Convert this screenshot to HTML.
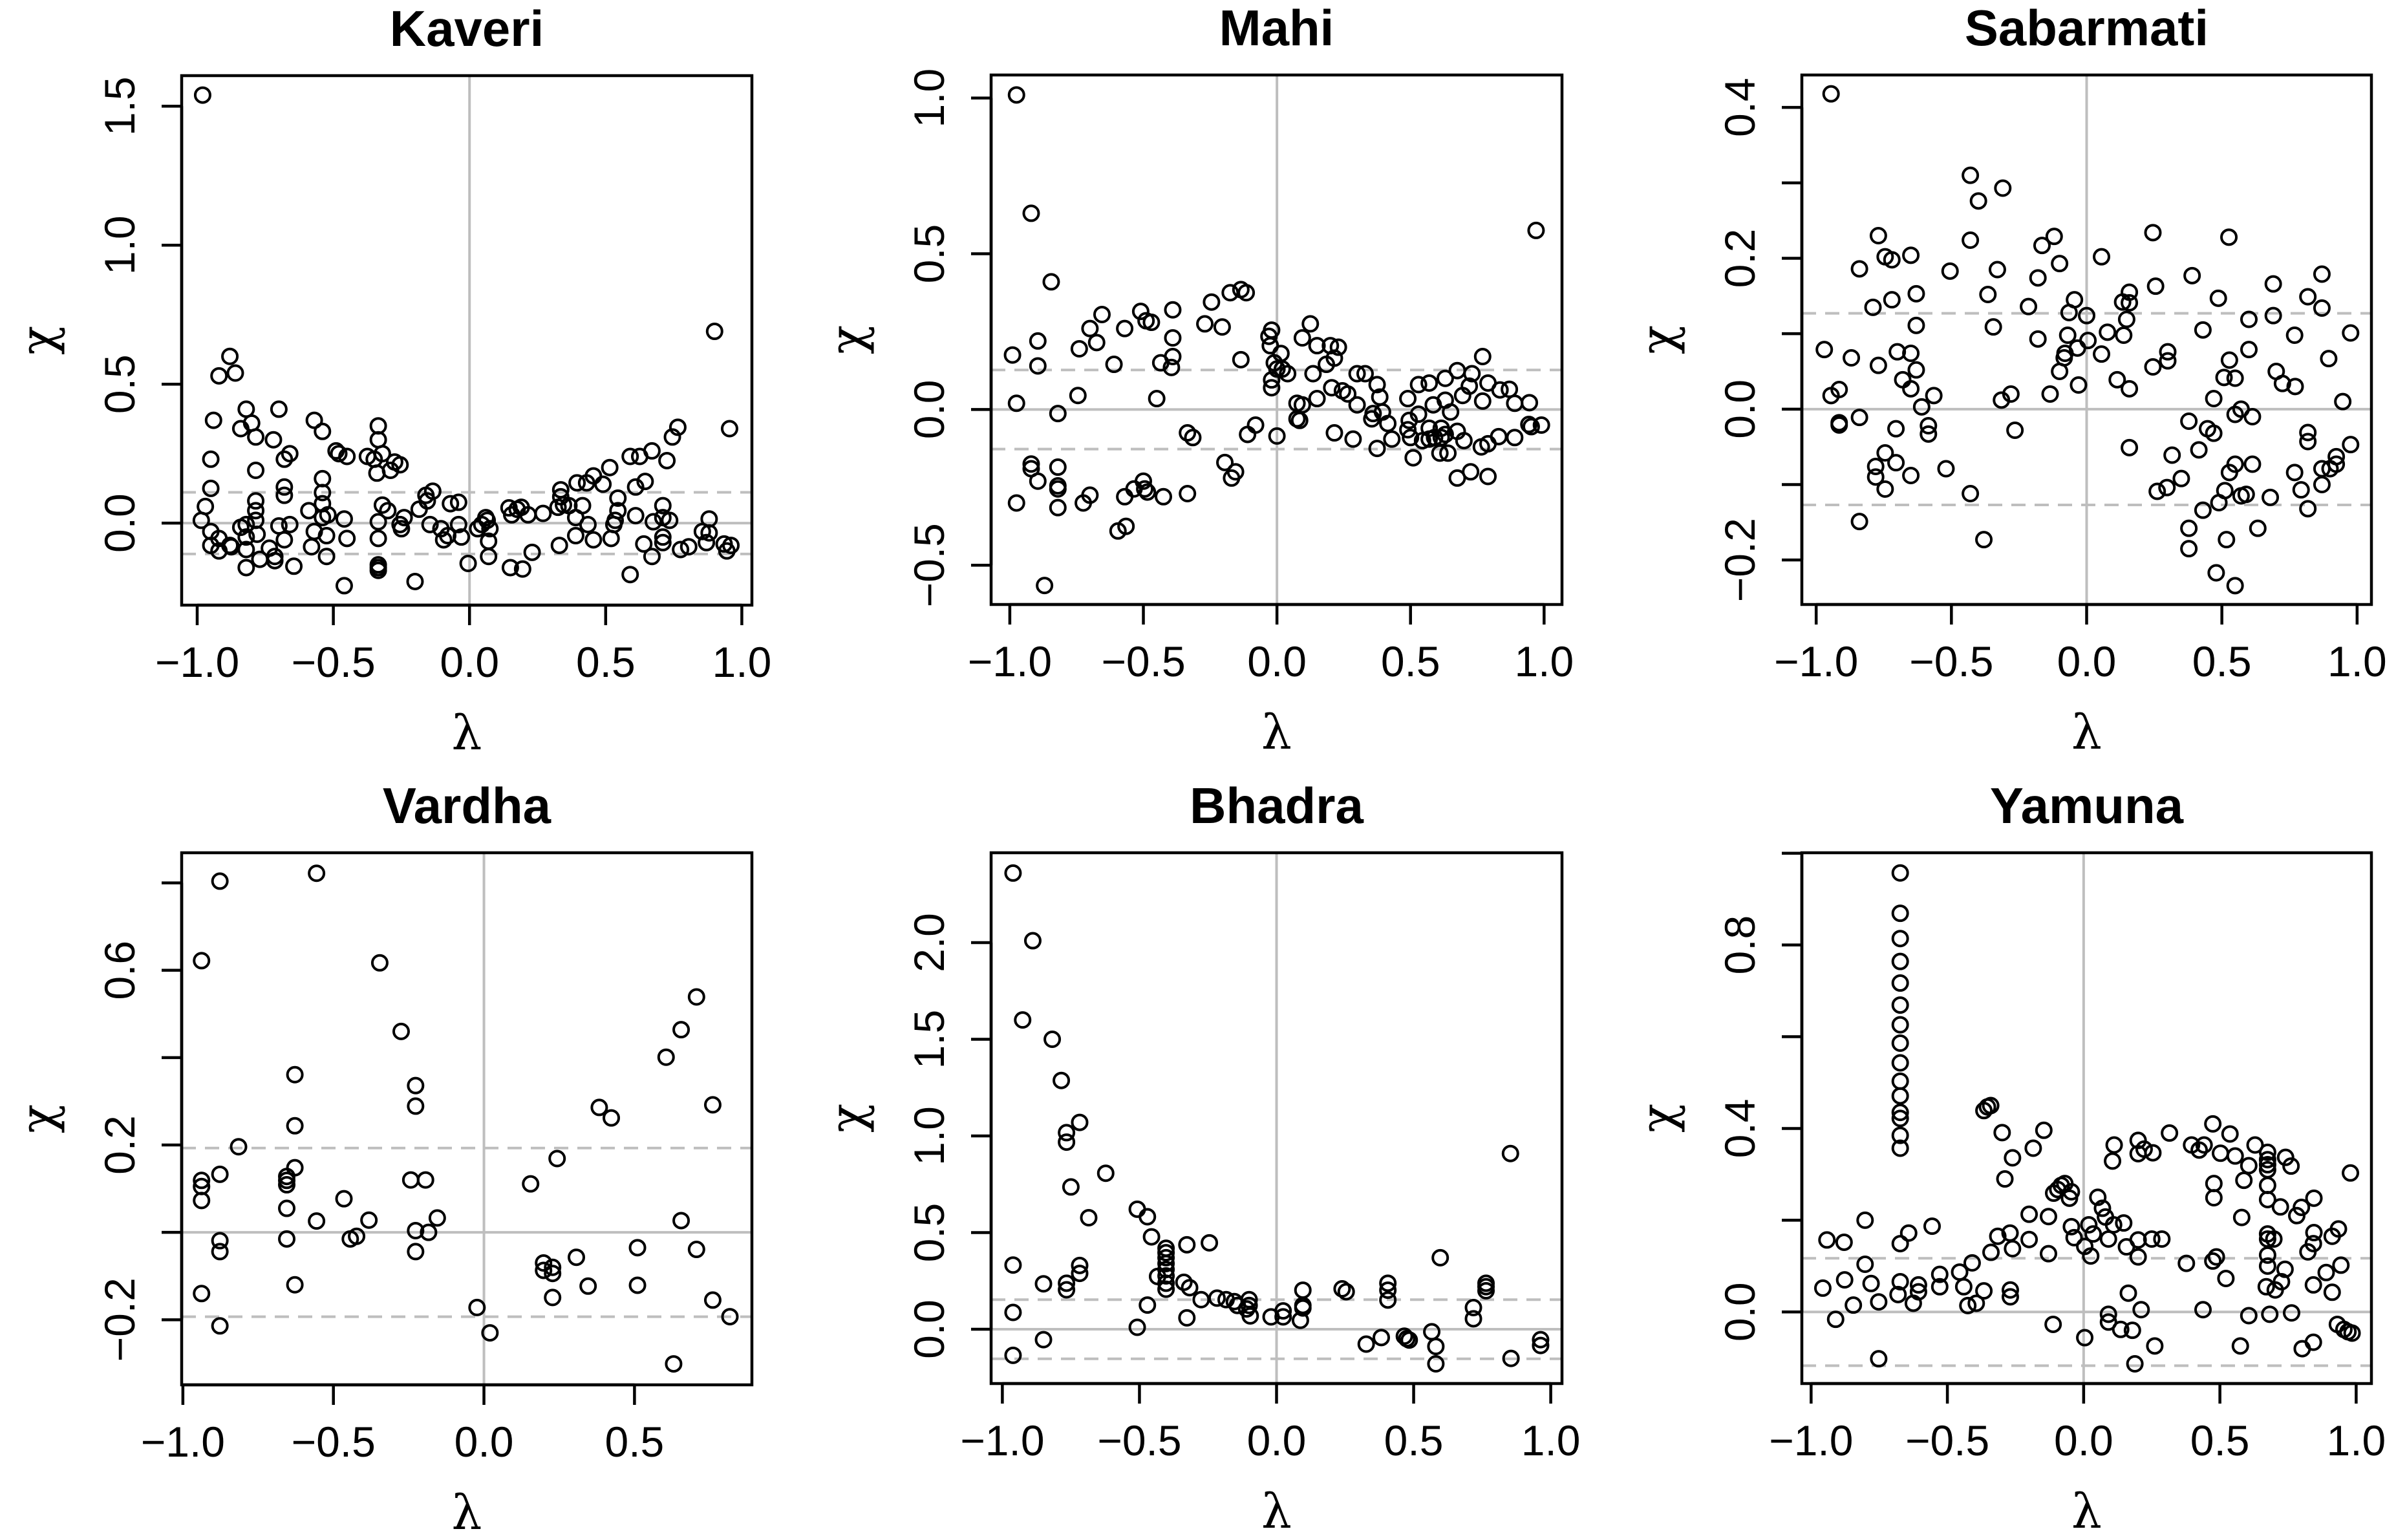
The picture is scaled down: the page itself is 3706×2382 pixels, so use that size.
<!DOCTYPE html>
<html><head><meta charset="utf-8"><title>Chi vs lambda scatter panels</title>
<style>
html,body{margin:0;padding:0;background:#fff;}
svg{display:block;}
text{font-family:"Liberation Sans",Arial,sans-serif;fill:#000;}
</style></head>
<body>
<svg id="chart" xmlns="http://www.w3.org/2000/svg" width="3706" height="2382" viewBox="0 0 3706 2382">
<rect x="0" y="0" width="3706" height="2382" fill="#fff"/>
</svg>
<script>
// ---------- data (lambda, chi) ----------
const kaveriPoints = [[-0.98,1.54],[0.90,0.69],[-0.88,0.60],[-0.92,0.53],[-0.86,0.54],[-0.94,0.37],[-0.82,0.41],[-0.80,0.36],[-0.84,0.34],[-0.785,0.31],[-0.70,0.41],[-0.72,0.30],[-0.66,0.25],[-0.68,0.23],[-0.95,0.23],[-0.785,0.19],[-0.95,0.125],[-0.97,0.06],[-0.985,0.01],[-0.57,0.37],[-0.54,0.33],[-0.49,0.26],[-0.48,0.25],[-0.45,0.24],[-0.335,0.35],[-0.335,0.30],[-0.32,0.25],[-0.375,0.24],[-0.35,0.23],[-0.34,0.18],[-0.29,0.19],[-0.275,0.22],[-0.255,0.21],[-0.54,0.16],[-0.54,0.11],[-0.54,0.07],[-0.59,0.045],[-0.54,0.02],[-0.52,0.03],[-0.46,0.015],[-0.68,0.13],[-0.68,0.10],[-0.785,0.08],[-0.785,0.045],[-0.785,0.01],[-0.84,-0.015],[-0.82,-0.005],[-0.78,-0.04],[-0.95,-0.03],[-0.95,-0.08],[-0.92,-0.055],[-0.92,-0.10],[-0.88,-0.08],[-0.875,-0.085],[-0.82,-0.05],[-0.82,-0.095],[-0.82,-0.16],[-0.77,-0.13],[-0.735,-0.09],[-0.715,-0.12],[-0.715,-0.135],[-0.70,-0.01],[-0.68,-0.06],[-0.66,-0.005],[-0.645,-0.155],[-0.58,-0.085],[-0.57,-0.03],[-0.525,-0.045],[-0.525,-0.12],[-0.45,-0.055],[-0.46,-0.225],[-0.335,0.005],[-0.335,-0.055],[-0.335,-0.15],[-0.335,-0.16],[-0.335,-0.17],[-0.32,0.065],[-0.30,0.045],[-0.255,-0.005],[-0.25,-0.02],[-0.24,0.02],[-0.20,-0.21],[-0.185,0.05],[-0.16,0.10],[-0.155,0.08],[-0.135,0.115],[-0.145,-0.005],[-0.105,-0.02],[-0.095,-0.06],[-0.08,-0.045],[-0.07,0.07],[-0.04,0.075],[-0.04,-0.005],[-0.03,-0.05],[-0.005,-0.145],[0.03,-0.02],[0.045,-0.005],[0.06,0.02],[0.065,0.01],[0.075,-0.02],[0.07,-0.065],[0.07,-0.12],[0.145,0.055],[0.155,0.03],[0.175,0.05],[0.19,0.057],[0.215,0.03],[0.27,0.035],[0.15,-0.16],[0.195,-0.165],[0.23,-0.105],[0.335,0.095],[0.335,0.12],[0.325,0.057],[0.345,0.066],[0.365,0.063],[0.33,-0.08],[0.39,0.02],[0.39,-0.045],[0.395,0.145],[0.415,0.063],[0.43,0.145],[0.435,-0.005],[0.455,0.17],[0.455,-0.06],[0.49,0.14],[0.515,0.20],[0.52,-0.055],[0.53,-0.005],[0.545,0.09],[0.545,0.045],[0.535,0.01],[0.59,0.24],[0.625,0.24],[0.61,0.13],[0.61,0.027],[0.59,-0.185],[0.645,0.15],[0.64,-0.075],[0.67,0.26],[0.675,0.005],[0.67,-0.12],[0.71,0.063],[0.71,0.02],[0.71,-0.05],[0.71,-0.07],[0.725,0.225],[0.745,0.31],[0.765,0.345],[0.735,0.01],[0.775,-0.095],[0.805,-0.085],[0.855,-0.03],[0.87,-0.07],[0.88,0.015],[0.88,-0.035],[0.935,-0.075],[0.945,-0.10],[0.96,-0.08],[0.955,0.34]];
const mahiPoints = [[-0.975,1.01],[-0.92,0.63],[0.97,0.575],[-0.845,0.41],[-0.99,0.175],[-0.895,0.22],[-0.895,0.14],[-0.975,0.02],[-0.82,-0.013],[-0.74,0.195],[-0.70,0.26],[-0.675,0.215],[-0.655,0.305],[-0.745,0.045],[-0.61,0.145],[-0.57,0.26],[-0.51,0.315],[-0.49,0.285],[-0.47,0.28],[-0.39,0.32],[-0.39,0.23],[-0.39,0.17],[-0.395,0.135],[-0.435,0.15],[-0.45,0.035],[-0.27,0.275],[-0.245,0.345],[-0.205,0.265],[-0.175,0.375],[-0.135,0.385],[-0.115,0.375],[-0.135,0.16],[-0.335,-0.075],[-0.315,-0.09],[-0.08,-0.05],[-0.11,-0.08],[-0.92,-0.175],[-0.92,-0.19],[-0.895,-0.23],[-0.975,-0.30],[-0.82,-0.185],[-0.82,-0.245],[-0.82,-0.255],[-0.82,-0.315],[-0.87,-0.565],[-0.725,-0.30],[-0.70,-0.275],[-0.57,-0.28],[-0.595,-0.39],[-0.565,-0.375],[-0.535,-0.255],[-0.50,-0.23],[-0.495,-0.255],[-0.485,-0.265],[-0.425,-0.28],[-0.335,-0.27],[-0.195,-0.17],[-0.17,-0.22],[-0.155,-0.20],[-0.02,0.255],[-0.03,0.235],[-0.025,0.205],[0.015,0.18],[-0.01,0.15],[0.0,0.13],[0.02,0.13],[0.04,0.115],[-0.02,0.095],[-0.02,0.07],[0.0,-0.085],[0.095,0.23],[0.125,0.275],[0.15,0.205],[0.2,0.205],[0.23,0.20],[0.215,0.165],[0.185,0.145],[0.135,0.115],[0.15,0.035],[0.075,0.02],[0.095,0.015],[0.075,-0.03],[0.085,-0.035],[0.205,0.07],[0.215,-0.075],[0.245,0.06],[0.265,0.05],[0.30,0.015],[0.30,0.115],[0.33,0.115],[0.285,-0.095],[0.375,0.08],[0.385,0.04],[0.36,-0.013],[0.355,-0.03],[0.395,-0.008],[0.415,-0.045],[0.43,-0.095],[0.375,-0.125],[0.49,0.035],[0.53,0.08],[0.57,0.085],[0.495,-0.035],[0.49,-0.065],[0.50,-0.09],[0.51,-0.155],[0.53,-0.015],[0.545,-0.1],[0.57,-0.06],[0.585,0.015],[0.57,-0.095],[0.59,-0.09],[0.615,-0.06],[0.61,-0.14],[0.63,-0.08],[0.615,-0.09],[0.64,-0.14],[0.63,0.10],[0.63,0.03],[0.65,-0.008],[0.675,0.125],[0.695,0.045],[0.72,0.075],[0.73,0.115],[0.675,-0.07],[0.70,-0.10],[0.675,-0.22],[0.725,-0.2],[0.77,0.17],[0.77,0.027],[0.765,-0.12],[0.79,-0.11],[0.79,-0.215],[0.79,0.085],[0.83,-0.087],[0.835,0.063],[0.87,0.065],[0.89,0.02],[0.89,-0.09],[0.945,0.022],[0.943,-0.048],[0.952,-0.055],[0.99,-0.05]];
const sabarmatiPoints = [[-0.945,0.418],[-0.43,0.31],[-0.31,0.293],[-0.40,0.276],[-0.77,0.23],[-0.745,0.202],[-0.72,0.198],[-0.65,0.204],[-0.84,0.186],[-0.79,0.135],[-0.72,0.145],[-0.63,0.153],[-0.63,0.111],[-0.505,0.183],[-0.43,0.224],[-0.33,0.185],[-0.365,0.152],[-0.345,0.109],[-0.97,0.079],[-0.87,0.068],[-0.77,0.058],[-0.70,0.076],[-0.65,0.074],[-0.63,0.052],[-0.68,0.039],[-0.65,0.027],[-0.565,0.018],[-0.61,0.003],[-0.915,0.026],[-0.945,0.018],[-0.915,-0.018],[-0.915,-0.021],[-0.84,-0.011],[-0.705,-0.026],[-0.585,-0.022],[-0.585,-0.033],[-0.745,-0.058],[-0.705,-0.071],[-0.78,-0.076],[-0.78,-0.09],[-0.745,-0.106],[-0.65,-0.088],[-0.52,-0.079],[-0.43,-0.112],[-0.84,-0.149],[-0.38,-0.173],[-0.315,0.012],[-0.28,0.02],[-0.265,-0.028],[-0.135,0.02],[-0.165,0.217],[-0.12,0.229],[-0.10,0.193],[-0.18,0.174],[-0.215,0.136],[-0.18,0.093],[-0.045,0.145],[-0.065,0.128],[0.0,0.124],[-0.07,0.098],[-0.08,0.074],[-0.083,0.068],[-0.034,0.081],[0.005,0.091],[-0.10,0.05],[-0.03,0.032],[0.055,0.202],[0.077,0.102],[0.055,0.073],[0.133,0.142],[0.158,0.155],[0.158,0.141],[0.148,0.119],[0.137,0.098],[0.113,0.039],[0.158,0.027],[0.158,-0.051],[0.245,0.234],[0.255,0.163],[0.245,0.056],[0.30,0.076],[0.30,0.064],[0.316,-0.061],[0.261,-0.109],[0.297,-0.104],[0.35,-0.092],[0.39,0.177],[0.43,0.105],[0.487,0.147],[0.526,0.228],[0.378,-0.016],[0.415,-0.054],[0.447,-0.026],[0.47,-0.032],[0.47,0.014],[0.528,0.065],[0.508,0.042],[0.549,0.041],[0.571,0.0],[0.549,-0.007],[0.613,-0.01],[0.6,0.119],[0.6,0.079],[0.549,-0.073],[0.528,-0.084],[0.613,-0.073],[0.511,-0.108],[0.571,-0.115],[0.59,-0.113],[0.489,-0.124],[0.43,-0.134],[0.378,-0.158],[0.378,-0.185],[0.517,-0.173],[0.633,-0.158],[0.479,-0.217],[0.549,-0.234],[0.679,-0.117],[0.69,0.166],[0.69,0.124],[0.701,0.05],[0.724,0.034],[0.771,0.03],[0.769,0.098],[0.818,0.149],[0.87,0.179],[0.87,0.134],[0.895,0.067],[0.947,0.01],[0.976,0.101],[0.976,-0.047],[0.818,-0.031],[0.818,-0.043],[0.769,-0.084],[0.793,-0.107],[0.818,-0.132],[0.87,-0.079],[0.87,-0.1],[0.9,-0.079],[0.923,-0.063],[0.923,-0.073]];
const vardhaPoints = [[-0.877,0.804],[-0.556,0.822],[-0.938,0.622],[-0.346,0.617],[-0.275,0.46],[-0.628,0.361],[-0.227,0.336],[-0.227,0.289],[-0.628,0.244],[-0.815,0.196],[-0.628,0.148],[-0.877,0.133],[-0.938,0.119],[-0.938,0.105],[-0.938,0.073],[-0.655,0.128],[-0.655,0.119],[-0.655,0.109],[-0.655,0.055],[-0.465,0.077],[-0.556,0.026],[-0.382,0.028],[-0.243,0.12],[-0.194,0.12],[-0.155,0.033],[-0.227,0.004],[-0.184,0.0],[-0.444,-0.015],[-0.423,-0.009],[-0.655,-0.015],[-0.877,-0.019],[-0.877,-0.044],[-0.227,-0.044],[-0.628,-0.12],[-0.938,-0.14],[-0.877,-0.214],[-0.023,-0.172],[0.02,-0.23],[0.155,0.111],[0.243,0.169],[0.383,0.286],[0.423,0.262],[0.198,-0.07],[0.198,-0.087],[0.228,-0.08],[0.228,-0.094],[0.307,-0.057],[0.228,-0.149],[0.346,-0.123],[0.51,-0.035],[0.51,-0.121],[0.605,0.401],[0.655,0.464],[0.706,0.539],[0.76,0.292],[0.655,0.027],[0.706,-0.039],[0.76,-0.155],[0.817,-0.193],[0.63,-0.301]];
const bhadraPoints = [[-0.961,2.36],[-0.889,2.01],[-0.926,1.6],[-0.818,1.5],[-0.785,1.287],[-0.718,1.07],[-0.766,1.017],[-0.766,0.968],[-0.75,0.736],[-0.623,0.807],[-0.685,0.577],[-0.508,0.621],[-0.471,0.582],[-0.456,0.478],[-0.961,0.332],[-0.961,0.087],[-0.961,-0.135],[-0.85,0.235],[-0.85,-0.054],[-0.766,0.238],[-0.766,0.204],[-0.718,0.33],[-0.718,0.289],[-0.508,0.01],[-0.471,0.125],[-0.403,0.419],[-0.403,0.396],[-0.403,0.37],[-0.403,0.34],[-0.403,0.309],[-0.403,0.276],[-0.403,0.238],[-0.403,0.207],[-0.434,0.273],[-0.327,0.437],[-0.245,0.447],[-0.338,0.243],[-0.317,0.215],[-0.327,0.059],[-0.275,0.153],[-0.217,0.161],[-0.184,0.153],[-0.154,0.143],[-0.143,0.123],[-0.1,0.153],[-0.1,0.123],[-0.109,0.105],[-0.096,0.069],[-0.02,0.064],[0.024,0.095],[0.024,0.064],[0.087,0.046],[0.096,0.202],[0.096,0.123],[0.096,0.11],[0.239,0.209],[0.254,0.194],[0.327,-0.077],[0.382,-0.043],[0.406,0.238],[0.406,0.202],[0.406,0.151],[0.466,-0.036],[0.475,-0.049],[0.484,-0.056],[0.566,-0.013],[0.581,-0.089],[0.581,-0.179],[0.597,0.37],[0.718,0.112],[0.718,0.054],[0.764,0.238],[0.764,0.22],[0.764,0.199],[0.853,0.909],[0.855,-0.151],[0.963,-0.054],[0.963,-0.084]];
const yamunaPoints = [[-0.673,0.957],[-0.673,0.869],[-0.673,0.814],[-0.673,0.764],[-0.673,0.717],[-0.673,0.669],[-0.673,0.626],[-0.673,0.586],[-0.673,0.543],[-0.673,0.503],[-0.673,0.471],[-0.673,0.435],[-0.673,0.422],[-0.673,0.385],[-0.673,0.357],[-0.942,0.157],[-0.879,0.152],[-0.957,0.052],[-0.877,0.07],[-0.91,-0.016],[-0.845,0.015],[-0.802,0.2],[-0.802,0.104],[-0.78,0.062],[-0.752,0.022],[-0.752,-0.102],[-0.673,0.149],[-0.673,0.066],[-0.681,0.038],[-0.642,0.172],[-0.625,0.019],[-0.606,0.059],[-0.606,0.044],[-0.556,0.187],[-0.528,0.082],[-0.528,0.055],[-0.455,0.087],[-0.44,0.055],[-0.425,0.014],[-0.409,0.107],[-0.394,0.019],[-0.366,0.046],[-0.366,0.439],[-0.353,0.447],[-0.341,0.45],[-0.34,0.13],[-0.315,0.165],[-0.299,0.391],[-0.289,0.29],[-0.27,0.172],[-0.261,0.336],[-0.261,0.138],[-0.269,0.048],[-0.269,0.033],[-0.2,0.213],[-0.2,0.158],[-0.185,0.357],[-0.146,0.396],[-0.129,0.208],[-0.129,0.127],[-0.112,-0.027],[-0.11,0.259],[-0.095,0.267],[-0.082,0.276],[-0.069,0.28],[-0.052,0.248],[-0.045,0.262],[-0.045,0.186],[-0.035,0.162],[0.004,-0.056],[0.004,0.143],[0.019,0.19],[0.035,0.17],[0.026,0.122],[0.052,0.25],[0.069,0.226],[0.08,0.207],[0.091,0.159],[0.11,0.19],[0.147,0.194],[0.106,0.329],[0.112,0.364],[0.157,0.142],[0.164,0.041],[0.091,-0.005],[0.091,-0.022],[0.136,-0.038],[0.179,-0.04],[0.188,-0.113],[0.2,0.157],[0.2,0.12],[0.211,0.005],[0.2,0.374],[0.2,0.345],[0.222,0.355],[0.25,0.159],[0.254,0.347],[0.261,-0.074],[0.287,0.159],[0.315,0.39],[0.377,0.106],[0.396,0.364],[0.424,0.353],[0.442,0.364],[0.438,0.005],[0.474,0.41],[0.478,0.28],[0.478,0.249],[0.474,0.111],[0.487,0.12],[0.502,0.346],[0.522,0.073],[0.537,0.388],[0.556,0.34],[0.575,-0.074],[0.58,0.206],[0.588,0.287],[0.606,0.319],[0.606,-0.008],[0.629,0.364],[0.675,0.348],[0.675,0.332],[0.675,0.321],[0.675,0.31],[0.675,0.276],[0.675,0.245],[0.675,0.17],[0.675,0.159],[0.675,0.124],[0.675,0.1],[0.67,0.055],[0.683,-0.005],[0.698,0.159],[0.703,0.048],[0.726,0.066],[0.722,0.229],[0.739,0.093],[0.741,0.337],[0.761,0.318],[0.763,-0.002],[0.782,0.21],[0.799,0.228],[0.802,-0.08],[0.823,0.131],[0.843,0.149],[0.845,0.173],[0.845,0.248],[0.843,0.059],[0.843,-0.066],[0.89,0.086],[0.912,0.165],[0.912,0.043],[0.935,0.181],[0.944,0.102],[0.931,-0.027],[0.955,-0.038],[0.97,-0.043],[0.985,-0.046],[0.979,0.303]];

const panelNames = ["Kaveri","Mahi","Sabarmati","Vardha","Bhadra","Yamuna"];
const thresholds = [0.111,0.127,0.127,0.193,0.153,0.117];
const xTicksFull = [-1,-0.5,0,0.5,1];
const xTicksVardha = [-1,-0.5,0,0.5];
const xTickLabelsFull = ["\u22121.0","\u22120.5","0.0","0.5","1.0"];
const xTickLabelsVardha = ["\u22121.0","\u22120.5","0.0","0.5"];
const yTicksKaveri = [0,0.5,1,1.5];
const yLabelsKaveri = ["0.0","0.5","1.0","1.5"];
const yTicksMahi = [-0.5,0,0.5,1];
const yLabelsMahi = ["\u22120.5","0.0","0.5","1.0"];
const yTicksSabarmati = [-0.2,-0.1,0,0.1,0.2,0.3,0.4];
const yLabelsSabarmati = ["\u22120.2","","0.0","","0.2","","0.4"];
const yTicksVardha = [-0.2,0,0.2,0.4,0.6,0.8];
const yLabelsVardha = ["\u22120.2","","0.2","","0.6",""];
const yTicksBhadra = [0,0.5,1,1.5,2];
const yLabelsBhadra = ["0.0","0.5","1.0","1.5","2.0"];
const yTicksYamuna = [0,0.2,0.4,0.6,0.8,1.0];
const yLabelsYamuna = ["0.0","","0.4","","0.8",""];

// ---------- layout (pixel geometry, not data) ----------
const layout = [
  {box:[281,117,1163,936], xr:[-1.057,1.037], yr:[-0.295,1.61]},
  {box:[1533,116,2416,935], xr:[-1.07,1.067], yr:[-0.626,1.074]},
  {box:[2787,116,3668,935], xr:[-1.053,1.053], yr:[-0.259,0.443]},
  {box:[281,1319,1163,2142], xr:[-1.004,0.89], yr:[-0.349,0.869]},
  {box:[1533,1319,2416,2140], xr:[-1.041,1.041], yr:[-0.281,2.465]},
  {box:[2787,1319,3668,2140], xr:[-1.034,1.056], yr:[-0.156,1.001]}
];
const pointSets = [kaveriPoints,mahiPoints,sabarmatiPoints,vardhaPoints,bhadraPoints,yamunaPoints];
const xTickSets = [xTicksFull,xTicksFull,xTicksFull,xTicksVardha,xTicksFull,xTicksFull];
const xLabelSets = [xTickLabelsFull,xTickLabelsFull,xTickLabelsFull,xTickLabelsVardha,xTickLabelsFull,xTickLabelsFull];
const yTickSets = [yTicksKaveri,yTicksMahi,yTicksSabarmati,yTicksVardha,yTicksBhadra,yTicksYamuna];
const yLabelSets = [yLabelsKaveri,yLabelsMahi,yLabelsSabarmati,yLabelsVardha,yLabelsBhadra,yLabelsYamuna];

const NS = "http://www.w3.org/2000/svg";
const svg = document.getElementById("chart");
function mk(tag, attrs, parent){
  const e = document.createElementNS(NS, tag);
  for (const k in attrs) e.setAttribute(k, attrs[k]);
  parent.appendChild(e);
  return e;
}

for (let p = 0; p < 6; p++) {
  const L = layout[p];
  const [x0,y0,x1,y1] = L.box;
  const sx = v => x0 + (v - L.xr[0]) / (L.xr[1] - L.xr[0]) * (x1 - x0);
  const sy = v => y1 - (v - L.yr[0]) / (L.yr[1] - L.yr[0]) * (y1 - y0);
  const slug = panelNames[p].toLowerCase();
  const g = mk("g", {}, svg);
  
  

  const vline = mk("line", {x1:sx(0), x2:sx(0), y1:y0, y2:y1, stroke:"#bebebe", "stroke-width":4}, g);
  
  
  const hline = mk("line", {x1:x0, x2:x1, y1:sy(0), y2:sy(0), stroke:"#bebebe", "stroke-width":4}, g);
  
  
  [thresholds[p], -thresholds[p]].forEach((t, i) => {
    const d = mk("line", {x1:x0, x2:x1, y1:sy(t), y2:sy(t), stroke:"#bebebe", "stroke-width":4, "stroke-dasharray":"22 14"}, g);
    
    
  });

  pointSets[p].forEach(pt => {
    const c = mk("circle", {cx:sx(pt[0]), cy:sy(pt[1]), r:11.5, fill:"none", stroke:"#000", "stroke-width":4}, g);
    
    
  });

  const box = mk("rect", {x:x0, y:y0, width:x1-x0, height:y1-y0, fill:"none", stroke:"#000", "stroke-width":4.5}, g);
  
  

  const xt = xTickSets[p], xl = xLabelSets[p];
  const xaxis = mk("line", {x1:sx(xt[0]), x2:sx(xt[xt.length-1]), y1:y1, y2:y1, stroke:"#000", "stroke-width":4.5}, g);
  
  
  xt.forEach((v, i) => {
    const tk = mk("line", {x1:sx(v), x2:sx(v), y1:y1, y2:y1+31, stroke:"#000", "stroke-width":4.5}, g);
    
    
    const tl = mk("text", {x:sx(v), y:y1+88, "text-anchor":"middle", "dominant-baseline":"central", "font-size":66}, g);
    tl.textContent = xl[i];
    
    
  });

  const yt = yTickSets[p], yl = yLabelSets[p];
  const yaxis = mk("line", {x1:x0, x2:x0, y1:sy(yt[0]), y2:sy(yt[yt.length-1]), stroke:"#000", "stroke-width":4.5}, g);
  
  
  yt.forEach((v, i) => {
    const tk = mk("line", {x1:x0-31, x2:x0, y1:sy(v), y2:sy(v), stroke:"#000", "stroke-width":4.5}, g);
    
    
    if (yl[i]) {
      const tx = x0 - 96, ty = sy(v);
      const tl = mk("text", {x:tx, y:ty, "text-anchor":"middle", "dominant-baseline":"central", "font-size":66, transform:"rotate(-90 " + tx + " " + ty + ")"}, g);
      tl.textContent = yl[i];
      
      
    }
  });

  const cx = (x0 + x1) / 2, cy = (y0 + y1) / 2;
  const title = mk("text", {x:cx, y:y0-73, "text-anchor":"middle", "dominant-baseline":"central", "font-size":78, "font-weight":"bold"}, g);
  title.textContent = panelNames[p];
  
  
  const xlab = mk("text", {x:cx, y:y1+198, "text-anchor":"middle", "dominant-baseline":"central", "font-size":74, style:"font-family:'DejaVu Serif','Liberation Serif',serif"}, g);
  xlab.textContent = "\u03BB";
  
  
  const yx = x0 - 222;
  const ylab = mk("text", {x:yx, y:cy, "text-anchor":"middle", "dominant-baseline":"central", "font-size":74, style:"font-family:'DejaVu Serif','Liberation Serif',serif", transform:"rotate(-90 " + yx + " " + cy + ")"}, g);
  ylab.textContent = "\u03C7";
  
  
}
</script>
</body></html>
